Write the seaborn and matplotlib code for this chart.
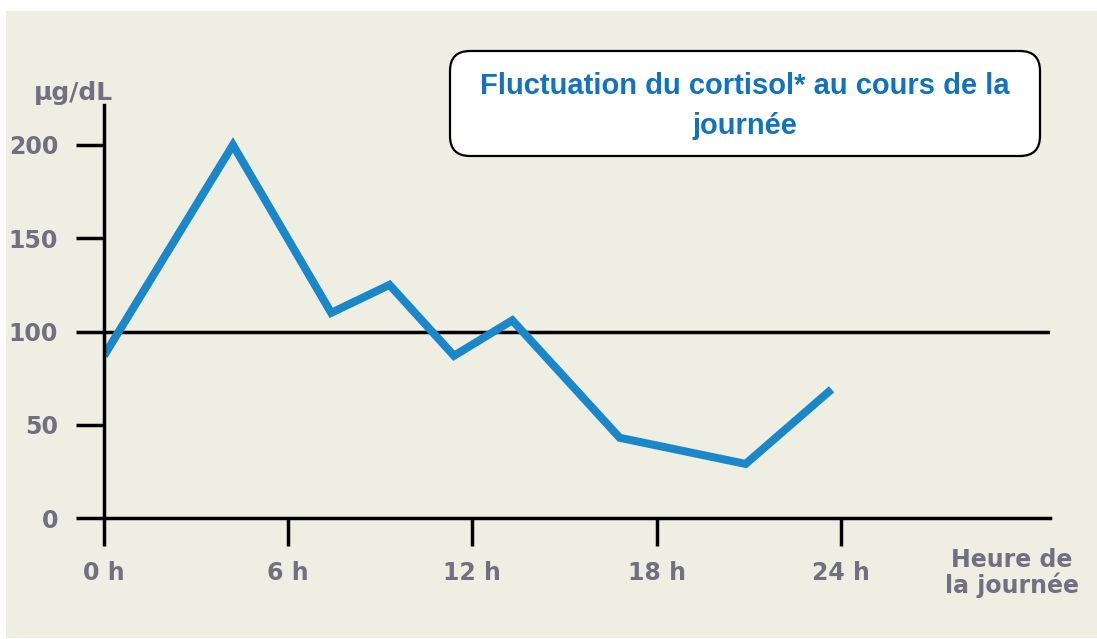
import matplotlib
matplotlib.use("Agg")
import matplotlib.pyplot as plt
from matplotlib.patches import Rectangle, FancyBboxPatch
import seaborn as sns

# cortisol readings (µg/dL) across the day
hours = [0.0, 4.2, 7.4, 9.3, 11.4, 13.3, 16.8, 20.9, 23.7]
cortisol = [87, 200, 110, 125, 87, 106, 43, 29, 69]

x_ticks = [0, 6, 12, 18, 24]
x_labels = ["0 h", "6 h", "12 h", "18 h", "24 h"]
y_ticks = [0, 50, 100, 150, 200]
reference_level = 100

title = "Fluctuation du cortisol* au cours de la\njournée"
y_unit = "µg/dL"
x_caption = "Heure de\nla journée"

W, H = 1097, 639
BG = "#efeee3"
LINE = "#1b87cb"
GREY = "#707080"
BLUE = "#0f72c2"

sns.set_style("white")
plt.rcParams["font.family"] = ["DejaVu Sans"]

fig = plt.figure(figsize=(W / 100, H / 100), dpi=100)
fig.patch.set_facecolor("white")
# beige panel (white strip on top / left as in the scan)
fig.patches.append(Rectangle((6 / W, 1 / H), 1 - 6 / W, (H - 12) / H,
                             transform=fig.transFigure, facecolor=BG,
                             edgecolor="none", zorder=-1))

# axes placed in pixels: x=0 at px 104, y=0 at px 518
px_per_h = 30.7
px_per_unit = 1.865
left, right, bottom, top = 104, 1050, 518, 105
ax = fig.add_axes([left / W, (H - bottom) / H, (right - left) / W, (bottom - top) / H])
ax.patch.set_alpha(0)

sns.lineplot(x=hours, y=cortisol, ax=ax, color=LINE, linewidth=5.8,
             solid_joinstyle="miter", solid_capstyle="butt", zorder=3)
ax.axhline(reference_level, color="black", linewidth=2.5, zorder=2)

ax.set_xlim(0, (right - left) / px_per_h)
ax.set_ylim(0, (bottom - top) / px_per_unit)
ax.set_xticks(x_ticks)
ax.set_xticklabels(x_labels)
ax.set_yticks(y_ticks)

for side in ["top", "right"]:
    ax.spines[side].set_visible(False)
for side in ["left", "bottom"]:
    ax.spines[side].set_linewidth(2.5)
    ax.spines[side].set_color("black")
    ax.spines[side].set_zorder(4)

ax.tick_params(axis="both", bottom=True, left=True, direction="out", length=20,
               width=2.5, colors="black", labelcolor=GREY, labelsize=17)
ax.tick_params(axis="y", pad=13)
ax.tick_params(axis="x", pad=11)
for lab in ax.get_xticklabels() + ax.get_yticklabels():
    lab.set_fontweight("bold")
ax.set_xlabel("")
ax.set_ylabel("")

# unit label and x caption
fig.text(73 / W, 1 - 93 / H, y_unit, ha="center", va="center", color=GREY,
         fontsize=18, fontweight="bold")
fig.text(1012 / W, 1 - 573 / H, x_caption, ha="center", va="center", color=GREY,
         fontsize=17, fontweight="bold", linespacing=1.0)

# title box
box = FancyBboxPatch((450 / 100, (H - 156) / 100), 590 / 100, 105 / 100,
                     boxstyle="round,pad=0,rounding_size=0.2",
                     transform=fig.dpi_scale_trans, facecolor="white",
                     edgecolor="black", linewidth=1.6, zorder=5)
fig.patches.append(box)
fig.text(745 / W, 1 - 106 / H, title, ha="center", va="center", color=BLUE,
         fontsize=21, fontweight="bold", family=["Liberation Sans", "DejaVu Sans"],
         linespacing=1.5, zorder=6)

fig.savefig("out.png", dpi=100, facecolor=fig.get_facecolor())
